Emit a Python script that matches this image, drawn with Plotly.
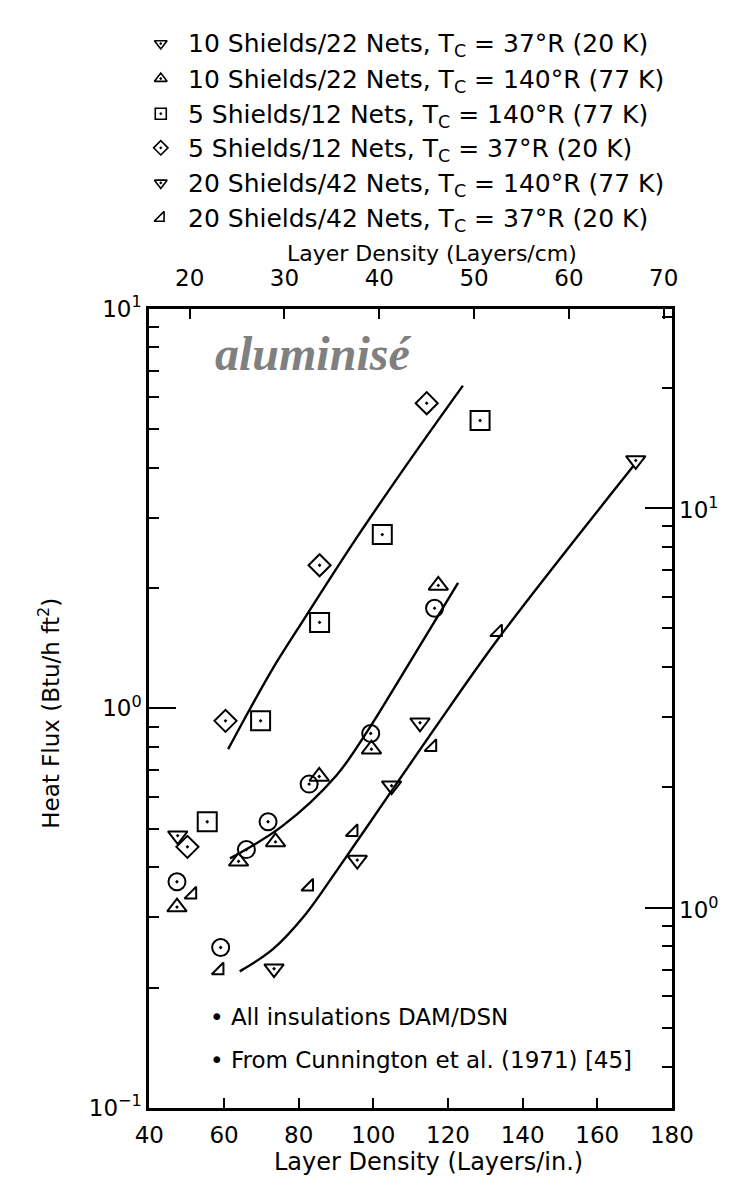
import math
import plotly.graph_objects as go

# ---------------- data ----------------
# 10 Shields/22 Nets, Tc = 37 R  (plotted as circles)
s1_x = [47.4, 59.1, 66.0, 71.8, 82.8, 99.3, 116.4]
s1_y = [0.368, 0.252, 0.443, 0.52, 0.646, 0.865, 1.78]
# 10 Shields/22 Nets, Tc = 140 R
s2_x = [47.4, 63.9, 73.8, 85.5, 99.5, 117.4]
s2_y = [0.318, 0.414, 0.463, 0.675, 0.79, 2.03]
# 5 Shields/12 Nets, Tc = 140 R
s3_x = [55.5, 69.8, 85.6, 102.4, 128.6]
s3_y = [0.52, 0.93, 1.64, 2.72, 5.25]
# 5 Shields/12 Nets, Tc = 37 R
s4_x = [50.2, 60.4, 85.6, 114.3]
s4_y = [0.45, 0.93, 2.28, 5.8]
# 20 Shields/42 Nets, Tc = 140 R
s5_x = [47.6, 73.4, 95.7, 104.9, 112.5, 170.3]
s5_y = [0.48, 0.223, 0.417, 0.64, 0.92, 4.17]
# 20 Shields/42 Nets, Tc = 37 R
s6_x = [51.5, 58.8, 82.8, 94.7, 115.8, 133.4]
s6_y = [0.342, 0.221, 0.358, 0.49, 0.80, 1.55]

# hand-drawn trend curves
fit_top_x = [61.1, 67.2, 73.1, 81.7, 95.2, 109.7, 124.0]
fit_top_y = [0.79, 1.006, 1.259, 1.686, 2.642, 4.165, 6.418]
fit_mid_x = [61.6, 75.6, 90.1, 98.5, 107.2, 122.7]
fit_mid_y = [0.421, 0.507, 0.679, 0.879, 1.19, 2.06]
fit_low_x = [64.2, 73.1, 81.7, 90.1, 105.4, 116.4, 133.4, 169.6]
fit_low_y = [0.2196, 0.2497, 0.304, 0.3914, 0.631, 0.889, 1.49, 4.03]

legend_labels = [
    "10 Shields/22 Nets, T<sub>C</sub> = 37°R (20 K)",
    "10 Shields/22 Nets, T<sub>C</sub> = 140°R (77 K)",
    "5 Shields/12 Nets, T<sub>C</sub> = 140°R (77 K)",
    "5 Shields/12 Nets, T<sub>C</sub> = 37°R (20 K)",
    "20 Shields/42 Nets, T<sub>C</sub> = 140°R (77 K)",
    "20 Shields/42 Nets, T<sub>C</sub> = 37°R (20 K)",
]
legend_symbols = ["triangle-down-open-dot", "triangle-up-open-dot", "square-open-dot",
                  "diamond-open-dot", "triangle-down-open-dot", "triangle-se-open"]

x_ticks_in = [40, 60, 80, 100, 120, 140, 160, 180]
x_ticks_cm = [20, 30, 40, 50, 60, 70]
right_ticks = [1, 10]
IN_PER_CM = 2.54
W_PER_BTU = 3.155  # Btu/h ft2 -> W/m2

# ---------------- layout constants (pixels) ----------------
FONT = "DejaVu Sans"
W, H = 742, 1186
L, R, T, B = 133, 683, 291, 1111
LEG_SYM_X, LEG_TXT_X = 145, 172
LEG_ROWS = [19, 55, 91, 126, 162, 198]
LEG_H = 230


def px2paper(px, py):
    return px / W, 1 - py / H


fig = go.Figure()

series = [
    (s1_x, s1_y, "circle-open-dot", 17),
    (s2_x, s2_y, "triangle-up-open-dot", 17),
    (s3_x, s3_y, "square-open-dot", 19),
    (s4_x, s4_y, "diamond-open-dot", 17),
    (s5_x, s5_y, "triangle-down-open-dot", 17),
    (s6_x, s6_y, "triangle-se-open", 13),
]

for xs, ys, sym, sz in series:
    fig.add_trace(go.Scatter(
        x=xs, y=ys, mode="markers", showlegend=False,
        marker=dict(symbol=sym, size=sz, color="black",
                    line=dict(color="black", width=2)),
    ))

for fx, fy in [(fit_top_x, fit_top_y), (fit_mid_x, fit_mid_y), (fit_low_x, fit_low_y)]:
    fig.add_trace(go.Scatter(
        x=fx, y=fy, mode="lines", showlegend=False,
        line=dict(color="black", width=2.4, shape="spline", smoothing=1.0),
    ))

# invisible trace that carries the secondary (top / right) axes
fig.add_trace(go.Scatter(x=[None], y=[None], xaxis="x2", yaxis="y2",
                         mode="markers", showlegend=False))

# key symbols (drawn in a pixel-scaled helper axis above the plot)
fig.add_trace(go.Scatter(
    x=[LEG_SYM_X] * len(legend_symbols), y=LEG_ROWS, xaxis="x3", yaxis="y3",
    mode="markers", showlegend=False, hoverinfo="skip",
    marker=dict(symbol=legend_symbols, size=11, color="black",
                line=dict(color="black", width=1.6)),
))

ax_common = dict(showgrid=False, zeroline=False, showline=True, linecolor="black",
                 linewidth=3, ticks="inside", tickcolor="black", tickwidth=2,
                 tickfont=dict(family=FONT, size=23, color="black"))

y_minor = [k * 10 ** e for e in (-1, 0) for k in range(2, 10)]
y2_minor = [0.4, 0.5, 0.6, 0.7, 0.8, 0.9] + list(range(2, 10)) + [20, 30]

xdom = [L / W, R / W]
ydom = [1 - B / H, 1 - T / H]

fig.update_layout(
    width=W, height=H,
    margin=dict(l=0, r=0, t=0, b=0),
    paper_bgcolor="white", plot_bgcolor="rgba(0,0,0,0)",
    showlegend=False,
    xaxis=dict(domain=xdom, range=[40, 180], tickvals=x_ticks_in, ticklen=10,
               ticklabelstandoff=5, anchor="y", **ax_common),
    xaxis2=dict(domain=xdom, overlaying="x", side="top", anchor="y",
                range=[40 / IN_PER_CM, 180 / IN_PER_CM], tickvals=x_ticks_cm,
                ticklen=10, ticklabelstandoff=10, **ax_common),
    yaxis=dict(domain=ydom, type="log", range=[-1, 1], tickvals=[0.1, 1, 10],
               ticktext=["10<sup>−1</sup>", "10<sup>0</sup>", "10<sup>1</sup>"],
               ticklen=27, ticklabelstandoff=0, anchor="x",
               minor=dict(tickvals=y_minor, ticks="inside", ticklen=10,
                          tickwidth=2, tickcolor="black"),
               **ax_common),
    yaxis2=dict(domain=ydom, type="log", overlaying="y", side="right", anchor="x",
                range=[math.log10(0.1 * W_PER_BTU), math.log10(10 * W_PER_BTU)],
                tickvals=right_ticks, showticklabels=False, ticklen=27,
                minor=dict(tickvals=y2_minor, ticks="inside", ticklen=10,
                           tickwidth=2, tickcolor="black"),
                **ax_common),
    xaxis3=dict(domain=[0, 1], range=[0, W], visible=False, anchor="y3",
                fixedrange=True),
    yaxis3=dict(domain=[1 - LEG_H / H, 1], range=[LEG_H, 0], visible=False,
                anchor="x3", fixedrange=True),
)

annots = []


def add_text(text, px, py, size, xanchor="center", family=FONT, color="black", angle=0):
    ax_, ay_ = px2paper(px, py)
    annots.append(dict(x=ax_, y=ay_, xref="paper", yref="paper", showarrow=False,
                       xanchor=xanchor, yanchor="middle", text=text, textangle=angle,
                       font=dict(family=family, size=size, color=color)))


for lab, py in zip(legend_labels, LEG_ROWS):
    add_text(lab, LEG_TXT_X, py + 2, 25, xanchor="left")

add_text("<b><i>aluminisé</i></b>", 305, 337, 48, family="Liberation Serif", color="#808080")
add_text("• All insulations DAM/DSN", 195, 1018, 23, xanchor="left")
add_text("• From Cunnington et al. (1971) [45]", 195, 1062, 23, xanchor="left")
add_text("Layer Density (Layers/cm)", 430, 234, 22)
add_text("Layer Density (Layers/in.)", 427, 1166, 24)
add_text("Heat Flux (Btu/h ft<sup>2</sup>)", 28, 706, 23, angle=-90)

# right-hand (secondary) decade labels, positioned through the y2 scale
for v in right_ticks:
    annots.append(dict(x=(R + 5) / W, y=math.log10(v), xref="paper", yref="y2",
                       showarrow=False, xanchor="left", yanchor="middle",
                       text=f"10<sup>{int(round(math.log10(v)))}</sup>",
                       font=dict(family=FONT, size=23, color="black")))

fig.update_layout(annotations=annots)

fig.write_html("out.html")
